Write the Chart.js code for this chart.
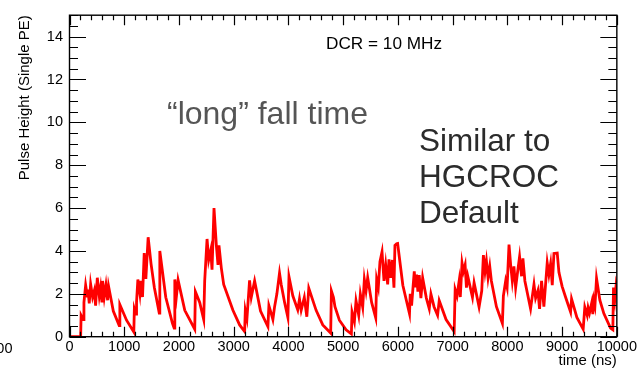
<!DOCTYPE html>
<html>
<head>
<meta charset="utf-8">
<script src="https://cdn.jsdelivr.net/npm/chart.js@4.4.1/dist/chart.umd.min.js"></script>
<style>
  html, body { margin: 0; padding: 0; background: #fff; }
  canvas { display: block; }
</style>
</head>
<body>
<canvas id="pulse" width="639" height="372"></canvas>
<script>
// pulse train: time (ns) and height (single PE)
const timeNs = [
  0, 204, 212, 252, 264, 295, 325, 337, 361, 386, 422, 453, 477, 508, 544, 568, 593, 605, 635, 666,
  696, 714, 800, 908, 920, 1042, 1175, 1185, 1215, 1225, 1249, 1286, 1304, 1334, 1365, 1395, 1437, 1490, 1550, 1640,
  1650, 1759, 1881, 1912, 1924, 1954, 1984, 2106, 2288, 2300, 2379, 2452, 2470, 2513, 2543, 2580, 2604, 2640, 2683, 2713,
  2731, 2774, 2817, 2986, 3108, 3200, 3212, 3242, 3290, 3321, 3382, 3490, 3625, 3643, 3686, 3716, 3746, 3789, 3837, 3868,
  3930, 3990, 4010, 4080, 4170, 4202, 4233, 4290, 4336, 4372, 4506, 4627, 4772, 4785, 4822, 4850, 4931, 5053, 5150, 5162,
  5205, 5235, 5284, 5314, 5357, 5387, 5418, 5448, 5520, 5595, 5612, 5642, 5672, 5710, 5746, 5777, 5813, 5837, 5867, 5898,
  5928, 5946, 5977, 5995, 6090, 6212, 6225, 6250, 6299, 6320, 6342, 6365, 6390, 6420, 6452, 6520, 6573, 6603, 6660, 6725,
  6755, 6880, 7028, 7046, 7080, 7119, 7140, 7172, 7197, 7228, 7252, 7277, 7362, 7392, 7483, 7532, 7562, 7592, 7617, 7647,
  7678, 7708, 7800, 7909, 7927, 7969, 7995, 8030, 8060, 8090, 8120, 8151, 8181, 8223, 8259, 8284, 8320, 8424, 8486, 8516,
  8558, 8588, 8625, 8667, 8728, 8759, 8790, 8820, 8851, 8911, 8942, 9000, 9064, 9155, 9173, 9270, 9385, 9415, 9458, 9475,
  9500, 9543, 9561, 9580, 9600, 9629, 9690, 9763, 9885, 9927, 9939, 9964, 9988, 10000
];
const pulsePE = [
  0, 0, 1.0, 0.8, 1.6, 2.4, 1.9, 2.2, 1.55, 2.45, 1.85, 2.15, 1.45, 2.75, 1.9, 2.3, 1.6, 2.6, 1.85, 2.4,
  1.7, 2.35, 1.2, 0.52, 1.5, 0.77, 0.22, 1.3, 1.05, 1.62, 2.67, 2.0, 2.6, 1.85, 3.9, 2.7, 4.64, 3.4, 2.3, 1.1,
  4.0, 1.84, 0.62, 0.4, 2.67, 1.9, 2.64, 1.23, 0.35, 2.1, 1.6, 0.8, 2.6, 4.56, 3.58, 4.03, 3.13, 6.0, 4.26, 3.35,
  4.26, 3.2, 2.44, 1.23, 0.55, 0.24, 1.23, 0.85, 2.63, 1.84, 2.6, 1.2, 0.47, 1.45, 1.08, 0.8, 1.38, 2.0, 2.97, 2.44,
  1.6, 0.9, 2.8, 1.91, 1.25, 1.76, 1.23, 1.83, 0.93, 2.26, 1.23, 0.55, 0.17, 2.14, 1.84, 1.4, 0.77, 0.32, 0.13, 1.15,
  0.7, 1.68, 1.0, 1.99, 1.38, 2.67, 2.14, 2.75, 1.6, 0.88, 2.67, 2.3, 3.5, 3.96, 2.6, 3.35, 2.44, 3.61, 2.75, 3.58,
  2.29, 4.26, 4.34, 4.35, 2.4, 1.07, 2.0, 1.45, 3.05, 2.3, 2.9, 2.1, 2.87, 1.8, 2.75, 1.8, 1.3, 1.99, 1.4, 1.0,
  1.68, 0.8, 0.24, 2.2, 1.9, 2.6, 1.85, 3.43, 3.05, 3.35, 2.29, 2.82, 1.84, 2.52, 1.38, 2.14, 3.81, 3.05, 3.53, 2.75,
  3.28, 2.6, 1.4, 0.62, 1.9, 2.6, 2.3, 4.3, 3.35, 2.6, 3.28, 2.29, 2.9, 3.73, 2.82, 3.66, 2.6, 1.3, 2.44, 1.8,
  2.15, 1.3, 2.6, 1.4, 3.45, 2.9, 3.4, 2.4, 3.88, 3.9, 3.0, 2.35, 1.84, 1.15, 1.76, 0.9, 0.35, 1.38, 1.0, 1.35,
  1.1, 1.6, 1.05, 1.7, 1.45, 2.72, 1.7, 1.08, 0.4, 0.32, 2.29, 1.76, 2.44, 2.3
];

const xTitle = "time (ns)";
const yTitle = "Pulse Height (Single PE)";
const notes = [
  { text: "DCR = 10 MHz", x: 326, y: 49, size: 17.2, color: "#000" },
  { text: "\u201Clong\u201D fall time", x: 167, y: 124, size: 32, color: "#555" },
  { text: "Similar to", x: 419, y: 151, size: 31.5, color: "#2b2b2b" },
  { text: "HGCROC", x: 419, y: 187, size: 31.5, color: "#2b2b2b" },
  { text: "Default", x: 419, y: 223, size: 31.5, color: "#2b2b2b" }
];

const FONT = "'Liberation Sans', Arial, Helvetica, sans-serif";
Chart.defaults.font.family = FONT;
Chart.defaults.color = "#000";

// ROOT style frame with inward ticks on all four sides
const rootFrame = {
  id: "rootFrame",
  afterDraw(chart) {
    const { ctx, chartArea: a, scales: { x, y } } = chart;
    ctx.save();
    ctx.strokeStyle = "#000";
    ctx.lineWidth = 1.2;
    ctx.beginPath();
    for (let t = 0; t <= 10000; t += 200) {
      const px = Math.round(x.getPixelForValue(t)) + 0.5;
      const len = t % 1000 === 0 ? 10 : 5;
      ctx.moveTo(px, a.bottom); ctx.lineTo(px, a.bottom - len);
      ctx.moveTo(px, a.top); ctx.lineTo(px, a.top + len);
    }
    for (let v = 0; v <= 15; v += 0.5) {
      const py = Math.round(y.getPixelForValue(v)) + 0.5;
      const len = v % 2 === 0 ? 16.5 : 8.5;
      ctx.moveTo(a.left, py); ctx.lineTo(a.left + len, py);
      ctx.moveTo(a.right, py); ctx.lineTo(a.right - len, py);
    }
    ctx.stroke();
    ctx.lineWidth = 1.4;
    ctx.strokeRect(a.left, a.top, a.right - a.left, a.bottom - a.top);

    notes.forEach(n => {
      ctx.font = `${n.size}px ${FONT}`;
      ctx.fillStyle = n.color;
      ctx.textAlign = "left";
      ctx.textBaseline = "alphabetic";
      ctx.fillText(n.text, n.x, n.y);
    });
    // cut-off tick label of the neighbouring plot
    ctx.font = `14.5px ${FONT}`;
    ctx.fillStyle = "#000";
    ctx.textAlign = "right";
    ctx.fillText("00", 12.5, 352.5);
    ctx.restore();
  }
};

new Chart(document.getElementById("pulse"), {
  type: "line",
  data: {
    datasets: [{
      data: timeNs.map((t, i) => ({ x: t, y: pulsePE[i] })),
      borderColor: "#ff0000",
      borderWidth: 2.8,
      pointRadius: 0,
      tension: 0,
      fill: false
    }]
  },
  options: {
    responsive: false,
    animation: false,
    devicePixelRatio: 1,
    layout: { padding: { left: 0, right: 20.7, top: 7.3, bottom: 2.2 } },
    plugins: { legend: { display: false }, tooltip: { enabled: false } },
    scales: {
      x: {
        type: "linear",
        min: 0,
        max: 10000,
        grid: { display: false, drawTicks: false },
        border: { display: false },
        ticks: { stepSize: 1000, autoSkip: false, maxRotation: 0, padding: 2, font: { size: 14.5 }, callback: v => String(v) },
        title: { display: true, text: xTitle, align: "end", font: { size: 15 }, padding: { top: 0, bottom: 0 } },
        afterFit(scale) { scale.height = 33.1; }
      },
      y: {
        min: 0,
        max: 15,
        grid: { display: false, drawTicks: false },
        border: { display: false },
        ticks: { stepSize: 2, includeBounds: false, padding: 6.5, font: { size: 14.5 }, callback: v => String(v) },
        title: { display: true, text: yTitle, align: "end", font: { size: 15 }, padding: { top: 16, bottom: 0 } },
        afterFit(scale) { scale.width = 69.5; }
      }
    }
  },
  plugins: [rootFrame]
});
</script>
</body>
</html>
